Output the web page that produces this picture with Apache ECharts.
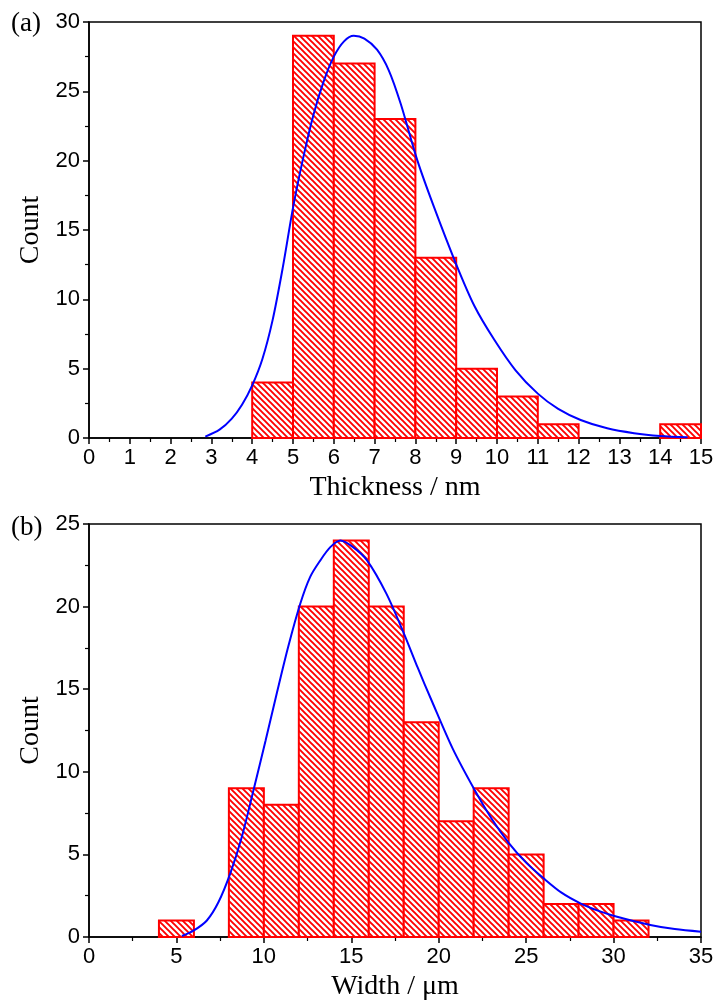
<!DOCTYPE html>
<html>
<head>
<meta charset="utf-8">
<script src="https://cdn.jsdelivr.net/npm/echarts@6/dist/echarts.min.js"></script>
<style>
html,body{margin:0;padding:0;background:#fff;}
#chart{width:718px;height:1005px;}
</style>
</head>
<body>
<div id="chart"></div>
<script>
// ---- Data: thickness histogram (panel a) ----
const thickBinWidth = 1;
const thickBinStart = [4, 5, 6, 7, 8, 9, 10, 11, 14];
const thickCounts   = [4, 29, 27, 23, 13, 5, 3, 1, 1];
const thickFit = [
  [2.85, 0.1], [3.2, 0.6], [3.5, 1.4], [3.75, 2.4], [4.0, 3.8], [4.25, 5.7], [4.5, 8.5],
  [4.75, 12.3], [5.0, 16.6], [5.25, 20.2], [5.5, 23.3], [5.75, 25.7], [6.0, 27.5], [6.25, 28.6],
  [6.49, 29.0], [6.75, 28.8], [7.06, 28.0], [7.35, 26.5], [7.64, 24.1], [8.05, 20.0],
  [8.45, 16.7], [8.99, 12.6], [9.45, 9.5], [9.93, 7.1], [10.45, 4.9], [11.0, 3.2], [11.5, 2.1],
  [12.05, 1.3], [12.7, 0.7], [13.36, 0.35], [14.0, 0.15], [14.67, 0.05]
];
const thickTicksX = [0, 15, 1];
const thickTicksY = [0, 30, 5];

// ---- Data: width histogram (panel b) ----
const widthBinWidth = 2;
const widthBinStart = [4, 8, 10, 12, 14, 16, 18, 20, 22, 24, 26, 28, 30];
const widthCounts   = [1, 9, 8, 20, 24, 20, 13, 7, 9, 5, 2, 2, 1];
const widthFit = [
  [5.31, 0.06], [6.0, 0.4], [6.74, 1.0], [7.4, 2.1], [8.08, 3.85], [8.75, 6.1], [9.41, 8.9],
  [10.1, 11.9], [10.75, 14.8], [11.4, 17.6], [12.09, 20.2], [12.65, 21.8], [13.23, 22.8],
  [13.8, 23.6], [14.38, 24.0], [15.1, 23.6], [15.9, 22.8], [17.0, 20.8], [18.0, 18.4],
  [18.8, 16.3], [19.6, 14.3], [20.8, 11.4], [22.0, 9.0], [23.0, 7.2], [24.0, 5.7], [25.0, 4.5],
  [26.0, 3.55], [27.0, 2.7], [28.1, 2.04], [29.1, 1.6], [30.2, 1.23], [32.1, 0.73], [33.5, 0.48],
  [35.0, 0.32]
];
const widthTicksX = [0, 35, 5];
const widthTicksY = [0, 25, 5];

// ---- Styles ----
const RED = '#ff0000';
const BLUE = '#0000ff';
const SANS = 'Liberation Sans, Arial, sans-serif';
const SERIF = 'Liberation Serif, Times New Roman, serif';

function makeHatch() {
  const s = 6;
  const c = document.createElement('canvas');
  c.width = s; c.height = s;
  const ctx = c.getContext('2d');
  ctx.fillStyle = '#ffffff';
  ctx.fillRect(0, 0, s, s);
  ctx.strokeStyle = RED;
  ctx.lineWidth = 1.9;
  ctx.beginPath();
  for (let k = -1; k <= 1; k++) {
    ctx.moveTo(-1, -1 + k * s);
    ctx.lineTo(s + 1, s + 1 + k * s);
  }
  ctx.stroke();
  return { image: c, repeat: 'repeat' };
}
const hatch = makeHatch();

function binData(starts, counts, w) {
  return starts.map((s, i) => [s, s + w, counts[i]]);
}

function renderBin(params, api) {
  const x0 = api.value(0), x1 = api.value(1), c = api.value(2);
  const p0 = api.coord([x0, c]);
  const p1 = api.coord([x1, 0]);
  return {
    type: 'rect',
    shape: { x: p0[0], y: p0[1], width: p1[0] - p0[0], height: p1[1] - p0[1] },
    style: { fill: hatch, stroke: RED, lineWidth: 2 }
  };
}

function xAxis(idx, ticks, name) {
  return {
    type: 'value', gridIndex: idx, min: ticks[0], max: ticks[1], interval: ticks[2],
    name: name, nameLocation: 'middle', nameGap: 36,
    nameTextStyle: { fontFamily: SERIF, fontSize: 28, color: '#000' },
    axisLine: { show: true, onZero: false, lineStyle: { color: '#000', width: 1.5 } },
    axisTick: { show: true, inside: false, length: 6, lineStyle: { color: '#000', width: 1.5 } },
    minorTick: { show: true, splitNumber: 2, length: 4, lineStyle: { color: '#000', width: 1.2 } },
    axisLabel: { fontFamily: SANS, fontSize: 22, color: '#000', margin: 9, showMinLabel: true, showMaxLabel: true },
    splitLine: { show: false }
  };
}
function yAxis(idx, ticks, name) {
  return {
    type: 'value', gridIndex: idx, min: ticks[0], max: ticks[1], interval: ticks[2],
    name: name, nameLocation: 'middle', nameGap: 42, nameRotate: 90,
    nameTextStyle: { fontFamily: SERIF, fontSize: 28, color: '#000' },
    axisLine: { show: true, onZero: false, lineStyle: { color: '#000', width: 1.5 } },
    axisTick: { show: true, inside: false, length: 6, lineStyle: { color: '#000', width: 1.5 } },
    minorTick: { show: true, splitNumber: 2, length: 4, lineStyle: { color: '#000', width: 1.2 } },
    axisLabel: { fontFamily: SANS, fontSize: 22, color: '#000', margin: 9, showMinLabel: true, showMaxLabel: true },
    splitLine: { show: false }
  };
}

const chart = echarts.init(document.getElementById('chart'), null, { renderer: 'canvas' });
chart.setOption({
  animation: false,
  backgroundColor: '#ffffff',
  grid: [
    { left: 89, right: 17, top: 22, height: 416, show: true, borderColor: '#000', borderWidth: 1.5, backgroundColor: 'transparent' },
    { left: 89, right: 17, top: 524, height: 413, show: true, borderColor: '#000', borderWidth: 1.5, backgroundColor: 'transparent' }
  ],
  xAxis: [
    xAxis(0, thickTicksX, 'Thickness / nm'),
    xAxis(1, widthTicksX, 'Width / μm')
  ],
  yAxis: [
    yAxis(0, thickTicksY, 'Count'),
    yAxis(1, widthTicksY, 'Count')
  ],
  graphic: [
    { type: 'text', left: 11, top: 10, style: { text: '(a)', font: '27px ' + SERIF, fill: '#000' } },
    { type: 'text', left: 11, top: 514, style: { text: '(b)', font: '27px ' + SERIF, fill: '#000' } }
  ],
  series: [
    {
      type: 'custom', xAxisIndex: 0, yAxisIndex: 0, renderItem: renderBin,
      encode: { x: [0, 1], y: 2 }, data: binData(thickBinStart, thickCounts, thickBinWidth), z: 2
    },
    {
      type: 'line', xAxisIndex: 0, yAxisIndex: 0, data: thickFit, smooth: 0.3,
      showSymbol: false, lineStyle: { color: BLUE, width: 2 }, z: 3
    },
    {
      type: 'custom', xAxisIndex: 1, yAxisIndex: 1, renderItem: renderBin,
      encode: { x: [0, 1], y: 2 }, data: binData(widthBinStart, widthCounts, widthBinWidth), z: 2
    },
    {
      type: 'line', xAxisIndex: 1, yAxisIndex: 1, data: widthFit, smooth: 0.3,
      showSymbol: false, lineStyle: { color: BLUE, width: 2 }, z: 3
    }
  ]
});
</script>
</body>
</html>
